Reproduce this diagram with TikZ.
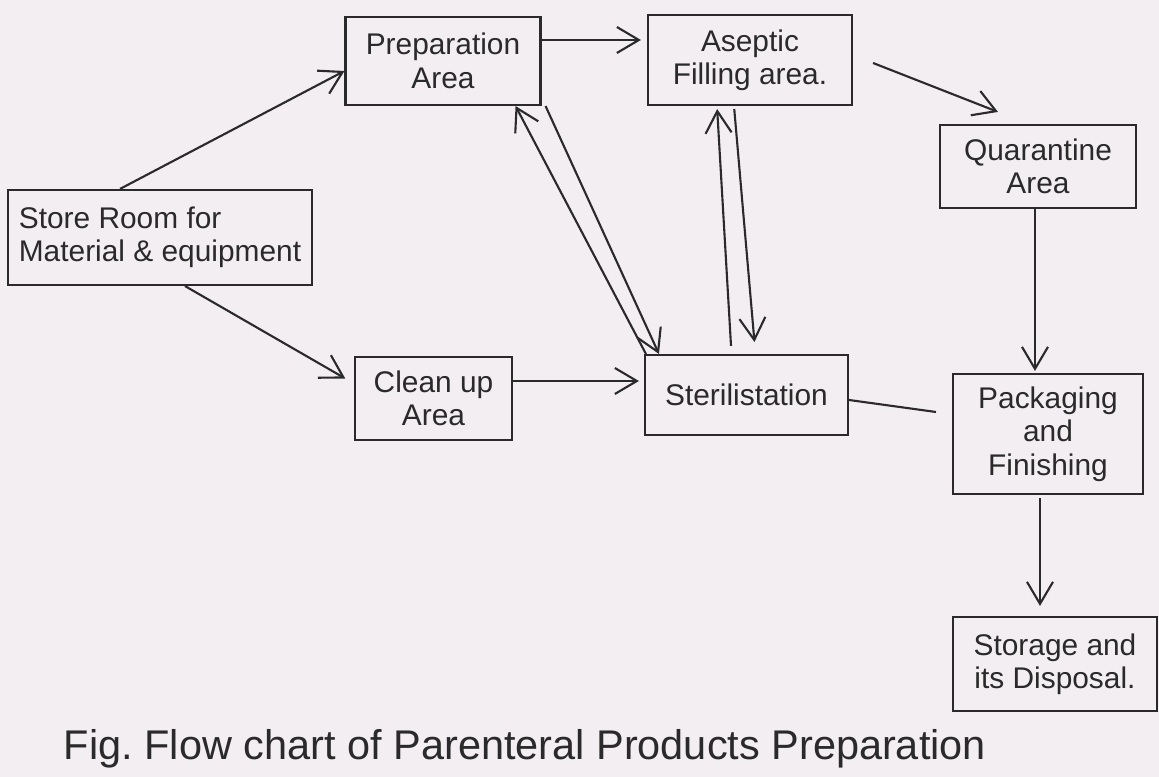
\documentclass[tikz,border=0pt]{standalone}
\usepackage{fontspec}
\setmainfont{Liberation Sans}
\usetikzlibrary{arrows.meta}
\definecolor{papier}{HTML}{F3EEF2}
\definecolor{encre}{HTML}{2A2A2A}
\begin{document}
\begin{tikzpicture}[
  font=\fontsize{8.5}{9.5}\selectfont,
  zone/.style={draw=encre, semithick, align=center, inner sep=2pt, text=encre},
  fl/.style={-{Straight Barb[length=2.2mm, width=2.6mm]}, encre, semithick},
  trait/.style={encre, semithick},
]
\fill[papier] (0,0) rectangle (11.59,-7.77);
\useasboundingbox (0,0) rectangle (11.59,-7.77);
% the rooms
\node[zone, minimum width=1.95cm, minimum height=0.88cm] (prep) at (4.43,-0.61)
  {Preparation\\Area};
\node[zone, minimum width=2.04cm, minimum height=0.90cm] (aseptic) at (7.50,-0.60)
  {Aseptic\\Filling area.};
\node[zone, minimum width=1.96cm, minimum height=0.83cm] (quar) at (10.38,-1.665)
  {Quarantine\\Area};
\node[zone, align=left, minimum width=3.04cm, minimum height=0.95cm] (store) at (1.60,-2.375)
  {Store Room for\\Material \& equipment};
\node[zone, minimum width=1.57cm, minimum height=0.83cm] (clean) at (4.335,-3.985)
  {Clean up\\Area};
\node[zone, minimum width=2.03cm, minimum height=0.80cm] (steril) at (7.465,-3.95)
  {Sterilistation};
\node[zone, minimum width=1.90cm, minimum height=1.20cm] (pack) at (10.48,-4.34)
  {Packaging\\and\\Finishing};
\node[zone, minimum width=2.04cm, minimum height=0.94cm] (storage) at (10.55,-6.64)
  {Storage and\\its Disposal.};
% caption
\node[text=encre, font=\fontsize{11.8}{13}\selectfont] (titre) at (5.25,-7.49)
  {Fig.\ Flow chart of Parenteral Products Preparation};
% flows
\draw[fl] ([xshift=-4mm]store.north) -- ([yshift=-1mm]prep.west);
\draw[fl, shorten >=1mm] ([xshift=2.5mm]store.south) -- ([yshift=1.5mm]clean.west);
\draw[fl, shorten >=0.6mm] ([yshift=2.1mm]prep.east) -- ([yshift=2.1mm]prep.east -| aseptic.west);
\draw[fl] ([xshift=2mm,yshift=-0.3mm]aseptic.east) -- ([xshift=-4mm,yshift=1.2mm]quar.north);
\draw[fl] ([xshift=0.2mm]steril.north west) -- ([xshift=-2.6mm]prep.south east);
\draw[fl] ([xshift=0.4mm]prep.south east) -- ([xshift=1.5mm]steril.north west);
\draw[fl, shorten <=0.8mm, shorten >=0.3mm] ([xshift=-1.5mm]steril.north) -- ([xshift=-3.3mm]aseptic.south);
\draw[fl, shorten <=0.3mm, shorten >=1.2mm] ([xshift=-1.6mm]aseptic.south) -- ([xshift=0.9mm]steril.north);
\draw[fl, shorten >=0.5mm] ([yshift=1.75mm]clean.east) -- ([yshift=1.75mm]clean.east -| steril.west);
\draw[trait] ([yshift=-0.5mm]steril.east) -- ([xshift=-1.6mm,yshift=2.2mm]pack.west);
\draw[fl, shorten >=0.2mm] ([xshift=-0.3mm]quar.south) -- ([xshift=-0.3mm]quar.south |- pack.north);
\draw[fl, shorten <=0.3mm, shorten >=1mm] ([xshift=-0.8mm]pack.south) -- ([xshift=-0.8mm]pack.south |- storage.north);
\end{tikzpicture}
\end{document}
